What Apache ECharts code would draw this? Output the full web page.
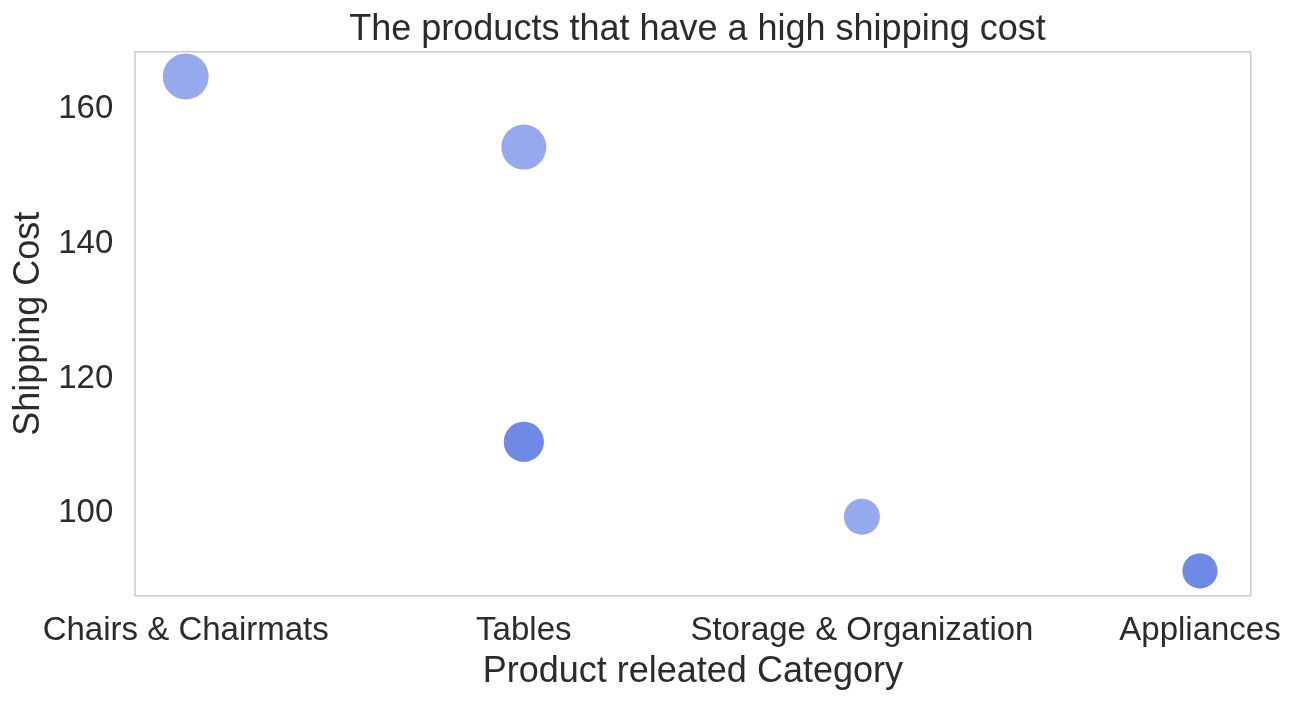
<!DOCTYPE html>
<html>
<head>
<meta charset="utf-8">
<script src="https://cdn.jsdelivr.net/npm/echarts@6/dist/echarts.min.js"></script>
<style>
html,body{margin:0;padding:0;background:#fff;}
#chart{width:1306px;height:710px;}
</style>
</head>
<body>
<div id="chart"></div>
<script>
// ---- data ----
var categories = ['Chairs & Chairmats', 'Tables', 'Storage & Organization', 'Appliances'];
var pointCategory = [0, 1, 1, 1, 2, 3, 3];
var shippingCost = [164.78, 154.3, 110.6, 110.6, 99.5, 91.45, 91.45];
var bubbleValue = [46, 45, 40, 40, 36, 35, 35];
var yTicks = [100, 120, 140, 160];
var xTicks = [0, 1, 2, 3];

var points = pointCategory.map(function (c, i) { return [c, shippingCost[i], bubbleValue[i]]; });

var FONT = "'Liberation Sans', Arial, sans-serif";
var TXT = '#2b2b2b';

var chart = echarts.init(document.getElementById('chart'), null, {renderer: 'canvas'});
chart.setOption({
  backgroundColor: '#ffffff',
  animation: false,
  title: {
    text: 'The products that have a high shipping cost',
    left: 692.5, top: 7, textAlign: 'center',
    textStyle: {fontFamily: FONT, fontSize: 36, fontWeight: 'normal', color: TXT}
  },
  grid: {
    left: 135, right: 55.3, top: 51.7, bottom: 114.3,
    show: true, borderColor: '#cccccc', borderWidth: 1.5, backgroundColor: '#ffffff'
  },
  xAxis: {
    type: 'value', min: -0.15, max: 3.15,
    name: 'Product releated Category', nameLocation: 'middle', nameGap: 58,
    nameTextStyle: {fontFamily: FONT, fontSize: 36, color: TXT, verticalAlign: 'top'},
    axisLine: {show: false}, axisTick: {show: false}, splitLine: {show: false},
    axisLabel: {
      customValues: xTicks, margin: 19,
      fontFamily: FONT, fontSize: 33, color: TXT,
      formatter: function (v) { return categories[Math.round(v)]; }
    }
  },
  yAxis: {
    type: 'value', min: 87.78, max: 168.45,
    name: 'Shipping Cost', nameLocation: 'middle', nameGap: 81,
    nameTextStyle: {fontFamily: FONT, fontSize: 36, color: TXT},
    axisLine: {show: false}, axisTick: {show: false}, splitLine: {show: false},
    axisLabel: {
      customValues: yTicks, margin: 21.7, padding: [5, 0, 0, 0],
      fontFamily: FONT, fontSize: 33, color: TXT
    }
  },
  series: [{
    type: 'scatter',
    data: points,
    symbolSize: function (d) { return d[2]; },
    itemStyle: {color: 'rgb(87,119,226)', opacity: 0.63}
  }]
});
</script>
</body>
</html>
